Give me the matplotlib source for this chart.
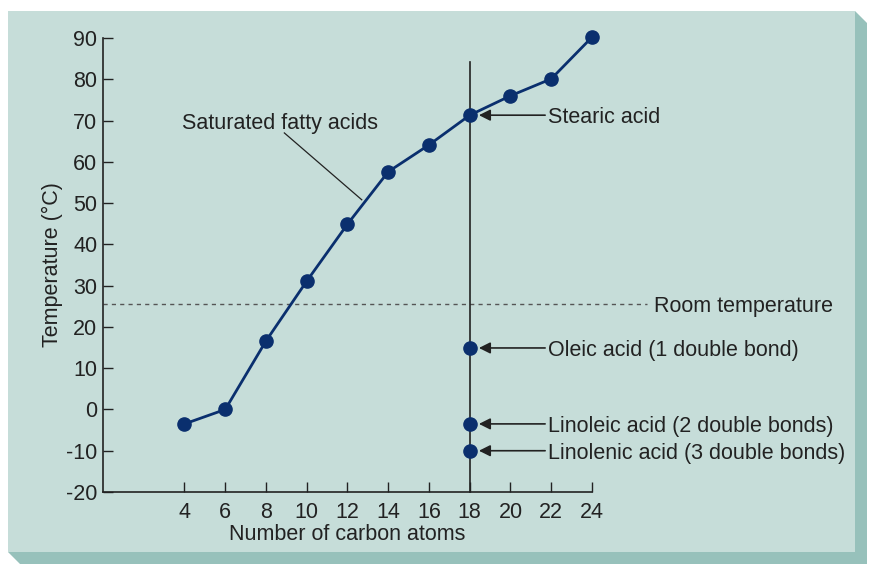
import matplotlib
matplotlib.use("Agg")
import matplotlib.pyplot as plt
from matplotlib.patches import Polygon, Rectangle

# saturated fatty acids: melting point vs chain length
carbons = [4, 6, 8, 10, 12, 14, 16, 18, 20, 22, 24]
melt_c = [-3.5, 0, 16.6, 31.1, 44.9, 57.6, 64.1, 71.3, 76.0, 80.1, 90.2]

# unsaturated C18 acids
unsat_names = ["Oleic acid (1 double bond)",
               "Linoleic acid (2 double bonds)",
               "Linolenic acid (3 double bonds)"]
unsat_melt = [14.9, -3.5, -10.0]

room_temp = 25.5
x_ticks = [4, 6, 8, 10, 12, 14, 16, 18, 20, 22, 24]
y_ticks = [-20, -10, 0, 10, 20, 30, 40, 50, 60, 70, 80, 90]

W, H = 870, 565
PANEL = "#c6ddd9"
SHADOW = "#97c1bb"
NAVY = "#0a2f6e"
INK = "#222222"
FS = 15.5

plt.rcParams["font.family"] = ["Liberation Sans", "DejaVu Sans"]
plt.rcParams["font.size"] = FS
plt.rcParams["axes.unicode_minus"] = False

fig = plt.figure(figsize=(W / 100, H / 100), dpi=100, facecolor="white")


def fxy(px, py):
    return (px / W, 1 - py / H)


shadow = [fxy(855, 11), fxy(867, 23), fxy(867, 564), fxy(20, 564), fxy(8, 552)]
fig.patches.append(Polygon(shadow, closed=True, transform=fig.transFigure,
                           facecolor=SHADOW, edgecolor="none", zorder=-2))
fig.patches.append(Rectangle(fxy(8, 552), 847 / W, 541 / H, transform=fig.transFigure,
                             facecolor=PANEL, edgecolor="none", zorder=-1))

ax = fig.add_axes([103 / W, 1 - 492 / H, (592 - 103) / W, (492 - 38) / H])
ax.set_zorder(1)
ax.set_facecolor("none")
ax.set_xlim(0, 24)
ax.set_ylim(-20, 90)
ax.spines[["top", "right"]].set_visible(False)
for s in ("left", "bottom"):
    ax.spines[s].set_color(INK)
    ax.spines[s].set_linewidth(1.2)
ax.set_xticks(x_ticks)
ax.set_yticks(y_ticks)
ax.tick_params(direction="in", length=7, width=1, colors=INK, labelsize=FS, pad=4)
ax.tick_params(axis="x", pad=7)

ax.set_xlabel("Number of carbon atoms", fontsize=FS, color=INK, labelpad=1)
ax.set_ylabel("Temperature (°C)", fontsize=FS, color=INK, labelpad=2)

# vertical line at C18
ax.plot([18, 18], [-20, 84.2], color=INK, lw=1.2, clip_on=False, zorder=2)

# room temperature
ax.plot([0, 26.7], [room_temp, room_temp], color="#555555", lw=1,
        ls=(0, (3, 3)), clip_on=False, zorder=1)
ax.text(27.05, room_temp, "Room temperature", va="center_baseline", ha="left",
        color=INK, fontsize=FS, clip_on=False)

ax.plot(carbons, melt_c, color=NAVY, lw=2, marker="o", ms=9.5,
        clip_on=False, zorder=4)
ax.plot([18] * len(unsat_melt), unsat_melt, ls="none", color=NAVY,
        marker="o", ms=9.5, clip_on=False, zorder=4)

arrow = dict(arrowstyle="-|>", color=INK, lw=1.2, mutation_scale=17,
             shrinkA=0, shrinkB=0)
labels = ["Stearic acid"] + unsat_names
ys = [melt_c[carbons.index(18)]] + unsat_melt
for name, yv in zip(labels, ys):
    ax.annotate("", xy=(18.45, yv), xytext=(21.7, yv), arrowprops=arrow,
                annotation_clip=False)
    ax.text(21.85, yv, name, va="center_baseline", ha="left", color=INK,
            fontsize=FS, clip_on=False)

ax.text(3.9, 69.2, "Saturated fatty acids", ha="left", va="center",
        color=INK, fontsize=FS)
ax.plot([8.9, 12.7], [67, 50.8], color=INK, lw=0.9)

fig.savefig("out.png", dpi=100, facecolor="white")
